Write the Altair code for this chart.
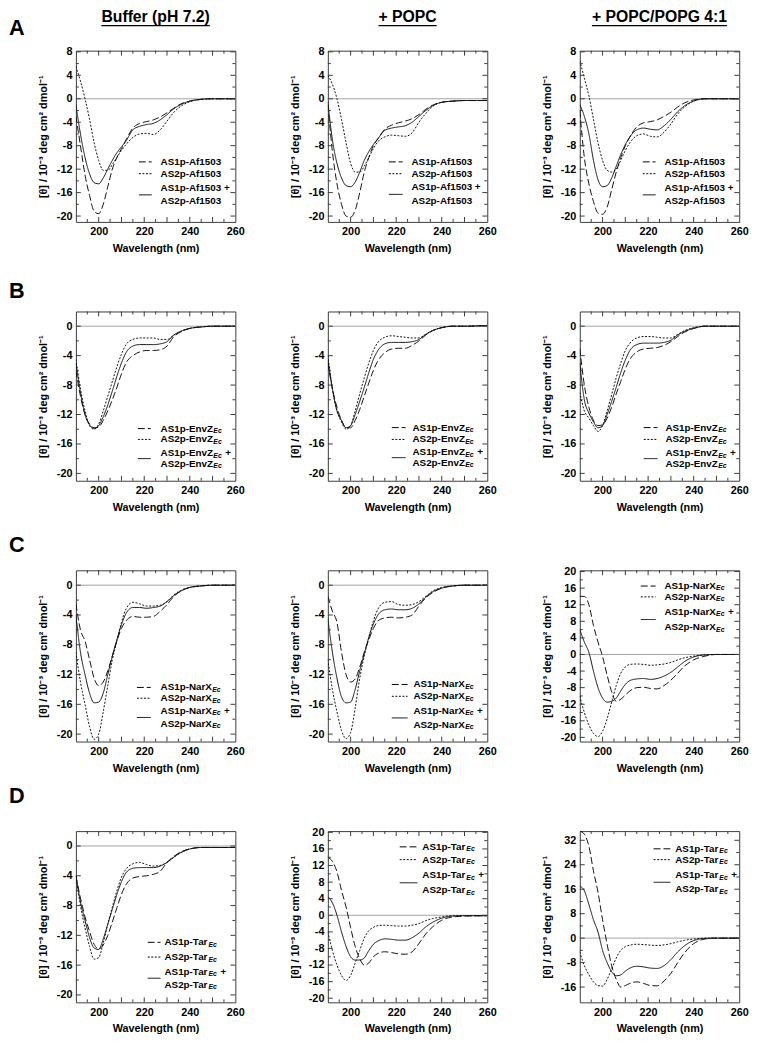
import altair as alt
import pandas as pd

# ---------------- data ----------------
W = [190, 192, 194, 196, 198, 200, 202, 204, 206, 208, 210, 212, 215, 218, 221, 224, 227, 230, 233, 236, 240, 245, 250, 260]

# Row A: Af1503
A1_S1 = [-3, -8, -13, -16.5, -19.2, -19.6, -18, -15, -12, -10, -8.5, -7, -5, -4.2, -3.9, -3.6, -3.1, -2.4, -1.6, -0.9, -0.4, -0.1, 0, 0]
A1_S2 = [5.5, 3, 0, -3.5, -7.5, -10.5, -12.2, -12.2, -11.2, -10, -8.8, -7.8, -6.6, -6.0, -5.9, -6.1, -5.3, -3.8, -2.3, -1.3, -0.5, -0.1, 0, 0]
A1_S3 = [-1, -6, -10, -12.8, -14.3, -14.5, -13.5, -12, -10.5, -9.2, -8.2, -7.2, -5.3, -4.7, -4.4, -4.2, -3.6, -2.7, -1.7, -1.0, -0.4, -0.1, 0, 0]

A2_S1 = [-1, -9, -14.5, -18, -20, -20.2, -19, -16, -12.5, -10, -8, -6.8, -5.2, -4.5, -4.1, -3.8, -3.4, -2.7, -1.8, -1.1, -0.6, -0.4, -0.3, -0.3]
A2_S2 = [4, 2.5, 0, -3.5, -7.5, -11, -12.5, -12.5, -11.5, -10, -8.5, -7.3, -6.5, -6.2, -6.3, -6.4, -5.8, -4, -2.5, -1.3, -0.6, -0.4, -0.3, -0.3]
A2_S3 = [-0.5, -7, -11, -13.5, -14.8, -15, -14.2, -12.5, -10.5, -9, -7.8, -6.8, -5.4, -5, -4.8, -4.6, -4.0, -3.0, -2.0, -1.2, -0.6, -0.4, -0.3, -0.3]

A3_S1 = [-2, -10, -14.5, -17.5, -19.5, -19.7, -18.5, -15.5, -12.5, -10, -8, -6.5, -4.8, -4.1, -3.9, -3.6, -3.0, -2.3, -1.4, -0.7, -0.2, 0, 0, 0]
A3_S2 = [6.5, 3.5, 0.5, -3.5, -7.5, -10.5, -12.2, -12.5, -12, -10.5, -8.8, -7.5, -6.3, -6, -6.4, -6.5, -5.7, -4.3, -2.6, -1.4, -0.4, 0, 0, 0]
A3_S3 = [-1, -3, -6, -10.5, -13.8, -15, -14.8, -13.5, -11.5, -9.5, -7.8, -6.5, -5.3, -5, -5.2, -5.3, -4.6, -3.5, -2.2, -1.2, -0.4, 0, 0, 0]

# Row B: EnvZ
B1_S1 = [-6, -9.5, -12, -13.3, -13.8, -13.7, -12.8, -11.5, -10, -8.3, -6.5, -5, -4, -3.5, -3.3, -3.3, -3.2, -2.7, -1.4, -0.8, -0.3, -0.1, 0, 0]
B1_S2 = [-4.5, -8.5, -11.5, -13.5, -14, -13.3, -11.5, -9.5, -7.5, -5.5, -3.8, -2.5, -1.8, -1.6, -1.6, -1.6, -1.8, -1.8, -1.2, -0.7, -0.3, -0.1, 0, 0]
B1_S3 = [-5, -9, -12, -13.4, -13.9, -13.5, -12.3, -10.7, -8.8, -6.8, -5, -3.6, -2.7, -2.5, -2.5, -2.5, -2.4, -2.1, -1.2, -0.7, -0.3, -0.1, 0, 0]

B2_S1 = [-5, -8.5, -11, -12.8, -13.8, -13.8, -12.8, -11.3, -9.5, -7.7, -6, -4.7, -3.6, -3.1, -3.0, -3.0, -2.6, -2.0, -1.2, -0.6, -0.2, 0, 0, 0.1]
B2_S2 = [-4, -8.5, -11.5, -13, -14, -13.5, -11.5, -9.2, -7, -5, -3.3, -2.2, -1.5, -1.3, -1.4, -1.5, -1.6, -1.6, -1.1, -0.6, -0.2, 0, 0, 0.1]
B2_S3 = [-4.5, -8.5, -11.5, -12.8, -13.8, -13.5, -12, -10.2, -8.3, -6.3, -4.5, -3.3, -2.4, -2.2, -2.2, -2.2, -2.1, -1.8, -1.1, -0.6, -0.2, 0, 0, 0.1]

B3_S1 = [-3, -8, -11, -12.8, -13.5, -13.4, -12.5, -11, -9.2, -7.5, -5.8, -4.5, -3.5, -3.1, -3.0, -2.9, -2.6, -2.1, -1.4, -0.8, -0.3, 0, 0, 0]
B3_S2 = [-9, -11.5, -12.5, -13.5, -14.3, -13.5, -11.5, -9.3, -7, -5, -3.3, -2.3, -1.6, -1.4, -1.4, -1.5, -1.6, -1.6, -1.1, -0.6, -0.2, 0, 0, 0]
B3_S3 = [-5, -10, -11.8, -13, -13.8, -13.5, -12, -10.2, -8.3, -6.3, -4.6, -3.3, -2.5, -2.3, -2.3, -2.3, -2.2, -1.9, -1.2, -0.7, -0.3, 0, 0, 0]

# Row C: NarX
C1_S1 = [-2.5, -6, -7.5, -10, -12.5, -13.5, -13, -11.5, -9.5, -7.5, -5.8, -4.8, -4.2, -4.3, -4.3, -4.2, -3.5, -2.6, -1.5, -0.8, -0.3, -0.1, 0, 0]
C1_S2 = [-9, -13, -16, -19, -20.7, -20, -17, -13.5, -10, -7.5, -5, -3.2, -2.3, -2.5, -2.8, -2.8, -2.7, -2.2, -1.3, -0.7, -0.3, -0.1, 0, 0]
C1_S3 = [-4, -9, -12, -14.5, -15.8, -15.7, -14.5, -12, -9.5, -7.3, -5.3, -3.8, -3, -3, -3.1, -3, -2.8, -2.2, -1.4, -0.8, -0.3, -0.1, 0, 0]

C2_S1 = [-1.5, -3.5, -5, -9, -12, -13, -12.6, -11, -9, -7.3, -5.8, -4.8, -4.4, -4.3, -4.4, -4.3, -4.0, -2.8, -1.7, -1, -0.4, -0.1, 0, 0]
C2_S2 = [-10, -14, -17, -19.5, -20.6, -19.8, -16.5, -12.5, -9.5, -7, -4.8, -3.2, -2.3, -2.2, -2.6, -2.7, -2.6, -2.2, -1.5, -0.8, -0.3, -0.1, 0, 0]
C2_S3 = [-4.5, -9, -12.5, -15, -15.8, -15.7, -14, -11.5, -9.2, -7, -5.2, -4, -3.3, -3.2, -3.3, -3.3, -3.1, -2.5, -1.6, -0.9, -0.4, -0.1, 0, 0]

C3_S1 = [14, 14, 12, 7, 3, -0.5, -5, -9, -11.3, -10.8, -9.8, -8.8, -8, -7.9, -8.2, -8.3, -7.5, -6.2, -4.5, -2.8, -1.3, -0.4, 0, 0]
C3_S2 = [-10, -14, -17, -19, -19.8, -18.5, -15.5, -11.5, -7.5, -4.5, -3, -2.4, -2.3, -2.4, -2.6, -2.5, -2.3, -1.9, -1.3, -0.8, -0.4, -0.1, 0, 0]
C3_S3 = [6, 3, 0.5, -4, -8, -10.5, -11.5, -11.3, -10.5, -8.8, -7.2, -6.3, -5.9, -5.8, -6, -5.8, -5.2, -4.3, -3, -1.7, -0.6, -0.1, 0, 0]

# Row D: Tar
D1_S1 = [-4, -7, -9.5, -11.5, -13.2, -13.8, -13.3, -12, -10.2, -8.3, -6.5, -5.2, -4.3, -4.1, -4.0, -3.8, -3.4, -2.2, -1.4, -0.8, -0.4, -0.2, -0.2, -0.2]
D1_S2 = [-4, -8, -11, -13.5, -15.2, -15, -13, -10.5, -8.2, -6, -4.2, -3.1, -2.4, -2.2, -2.5, -2.7, -2.6, -2.2, -1.5, -0.9, -0.4, -0.2, -0.2, -0.2]
D1_S3 = [-4, -7.5, -10, -12.3, -13.7, -13.9, -12.5, -10.5, -8.5, -6.5, -4.8, -3.6, -3, -2.9, -2.9, -2.9, -2.7, -2.2, -1.5, -0.9, -0.4, -0.2, -0.2, -0.2]

D2_S1 = [14, 13, 10.5, 6, 2, -3, -7.5, -10.5, -12, -11.5, -10, -9.2, -8.8, -9, -9.3, -9.4, -8.8, -6.8, -4.5, -2.8, -1.2, -0.4, -0.2, -0.1]
D2_S2 = [-4, -8.5, -12, -14.5, -15.7, -14.5, -11.5, -8.5, -5.5, -3.7, -2.9, -2.5, -2.4, -2.5, -2.6, -2.6, -2.4, -2, -1.3, -0.8, -0.4, -0.1, -0.1, -0.1]
D2_S3 = [4.5, 3, 0, -4, -7.5, -10, -10.8, -10.8, -10.3, -8.5, -7, -6.2, -5.7, -5.8, -6, -6, -5.4, -4.3, -2.8, -1.7, -0.7, -0.2, -0.1, -0.1]

D3_S1 = [35, 34, 30, 22, 15, 6, -2, -9, -13.5, -16, -15.5, -14.8, -14.3, -14.8, -15.5, -15.6, -14, -11.5, -8, -4.8, -1.8, -0.3, 0, 0]
D3_S2 = [-4.5, -9, -12, -14.3, -15.5, -15.7, -13.5, -10, -6.5, -4, -2.8, -2.3, -2, -2.1, -2.3, -2.4, -2.2, -1.8, -1.2, -0.7, -0.3, 0, 0, 0]
D3_S3 = [17, 15.5, 11, 6, 2, -4, -8, -11, -12.3, -12, -10.8, -9.8, -9.2, -9.4, -9.8, -9.9, -9, -7, -4.5, -2.5, -0.8, -0.1, 0, 0]

SERIES = ["AS1p", "AS2p", "AS1p + AS2p"]
COL_TITLES = ["Buffer (pH 7.2)", "+ POPC", "+ POPC/POPG 4:1"]
ROW_LETTERS = ["A", "B", "C", "D"]
PROTEINS = ["Af1503", "EnvZ", "NarX", "Tar"]
SUBSCRIPTS = ["", "Ec", "Ec", "Ec"]

X_LABELS = [200, 220, 240, 260]
Y_LABELS_A = [8, 4, 0, -4, -8, -12, -16, -20]
Y_LABELS_NEG = [0, -4, -8, -12, -16, -20]
Y_LABELS_20 = [20, 16, 12, 8, 4, 0, -4, -8, -12, -16, -20]
Y_LABELS_32 = [32, 24, 16, 8, 0, -8, -16]

X_TITLE = "Wavelength (nm)"
Y_TITLE = "[θ] / 10⁻³ deg cm² dmol⁻¹"

# ---------------- styling / layout ----------------
FONT = "Liberation Sans"
PW = 162
ROW_H = [174, 172, 174, 174]
FRAME = "#3a3a3a"
DASHES = [[7, 3], [2, 1.6], [1, 0]]

AW = {' ': 278, '+': 584, '-': 333, '(': 333, ')': 333, '.': 278, '/': 278, ':': 333,
      'A': 722, 'B': 722, 'C': 722, 'E': 667, 'G': 778, 'H': 722, 'N': 722, 'O': 778,
      'P': 667, 'S': 667, 'T': 611, 'X': 667, 'Z': 611,
      'a': 556, 'c': 556, 'e': 556, 'f': 333, 'n': 611, 'p': 611, 'r': 389, 'u': 611, 'v': 556}


def tw(s, size):
    return sum(AW.get(c, 556) for c in s) * size / 1000.0


def txt(t, x, y, size, weight="bold", style="normal", align="left", baseline="middle"):
    return alt.Chart(pd.DataFrame({"t": [t]})).mark_text(
        font=FONT, fontSize=size, fontWeight=weight, fontStyle=style,
        align=align, baseline=baseline, color="black"
    ).encode(text="t:N", x=alt.value(x), y=alt.value(y))


def hline(x1, x2, y, dash, width=1.0):
    return alt.Chart(pd.DataFrame({"k": [0]})).mark_rule(
        color="black", strokeWidth=width, strokeDash=dash
    ).encode(x=alt.value(x1), x2=alt.value(x2), y=alt.value(y))


# legend placement relative to each plot area: sample x1, sample x2, text x, row y's
LEG = {
    (0, 0): (64, 77, 86, [113, 125, 140, 153]),
    (0, 1): (62, 76, 85, [113, 125, 139, 153]),
    (0, 2): (64, 77, 86, [113, 125, 140, 153]),
    (1, 0): (63, 76, 86, [119, 130, 144, 155]),
    (1, 1): (65, 79, 86, [118, 130, 143, 154]),
    (1, 2): (65, 79, 87, [118, 130, 144, 155]),
    (2, 0): (62, 76, 86, [119, 130, 143, 156]),
    (2, 1): (65, 81, 87, [116, 128, 143, 157]),
    (2, 2): (62, 77, 86, [16, 27, 42, 58]),
    (3, 0): (73, 86, 90, [113, 128, 143, 156]),
    (3, 1): (73, 91, 96, [16, 29, 45, 60]),
    (3, 2): (75, 92, 97, [18, 29, 45, 59]),
}
LETTER_Y = [-16, -14, -19, -29]

PANELS = [
    [(A1_S1, A1_S2, A1_S3), (A2_S1, A2_S2, A2_S3), (A3_S1, A3_S2, A3_S3)],
    [(B1_S1, B1_S2, B1_S3), (B2_S1, B2_S2, B2_S3), (B3_S1, B3_S2, B3_S3)],
    [(C1_S1, C1_S2, C1_S3), (C2_S1, C2_S2, C2_S3), (C3_S1, C3_S2, C3_S3)],
    [(D1_S1, D1_S2, D1_S3), (D2_S1, D2_S2, D2_S3), (D3_S1, D3_S2, D3_S3)],
]
YCFG = {
    (0, 0): ([-21, 8.2], Y_LABELS_A), (0, 1): ([-21, 8.2], Y_LABELS_A), (0, 2): ([-21, 8.2], Y_LABELS_A),
    (1, 0): ([-21, 2], Y_LABELS_NEG), (1, 1): ([-21, 2], Y_LABELS_NEG), (1, 2): ([-21, 2], Y_LABELS_NEG),
    (2, 0): ([-21, 2], Y_LABELS_NEG), (2, 1): ([-21, 2], Y_LABELS_NEG), (2, 2): ([-21, 20.3], Y_LABELS_20),
    (3, 0): ([-21, 2], Y_LABELS_NEG), (3, 1): ([-21, 20.3], Y_LABELS_20), (3, 2): ([-21, 35], Y_LABELS_32),
}


def panel(r, c):
    h = ROW_H[r]
    s1, s2, s3 = PANELS[r][c]
    ydom, ylabels = YCFG[(r, c)]
    n = len(W)
    df = pd.DataFrame({"w": W * 3, "v": list(s1) + list(s2) + list(s3),
                       "s": [SERIES[0]] * n + [SERIES[1]] * n + [SERIES[2]] * n})
    xs = alt.Scale(domain=[190, 260], nice=False, zero=False)
    ys = alt.Scale(domain=ydom, nice=False, zero=False)
    xaxis = alt.Axis(values=X_LABELS, title=X_TITLE, ticks=False, tickSize=0, domain=False, grid=False,
                     labelFont=FONT, labelFontSize=11, labelFontWeight="bold", labelColor="black",
                     labelPadding=4, labelFlush=False, labelOverlap=False,
                     titleFont=FONT, titleFontSize=11, titleFontWeight="bold", titleColor="black",
                     titlePadding=6)
    yaxis = alt.Axis(values=ylabels, title=Y_TITLE, ticks=False, tickSize=0, domain=False, grid=False,
                     labelExpr="'' + datum.value",
                     labelFont=FONT, labelFontSize=11, labelFontWeight="bold", labelColor="black",
                     labelPadding=4, labelFlush=False, labelOverlap=False,
                     titleFont=FONT, titleFontSize=11, titleFontWeight="bold", titleColor="black",
                     titlePadding=8)
    X = alt.X("w:Q", scale=xs, axis=xaxis)
    Y = alt.Y("v:Q", scale=ys, axis=yaxis)

    layers = []
    # zero line
    layers.append(alt.Chart(pd.DataFrame({"v": [0]})).mark_rule(color="#8a8a8a", strokeWidth=0.8)
                  .encode(y=Y))
    # spectra
    layers.append(alt.Chart(df).mark_line(strokeWidth=1.0, color="#111111", interpolate="monotone", clip=True)
                  .encode(x=X, y=Y, detail="s:N",
                          strokeDash=alt.StrokeDash("s:N", scale=alt.Scale(domain=SERIES, range=DASHES),
                                                    legend=None)))
    # inward frame ticks
    xt_major = pd.DataFrame({"w": [v for v in range(200, 260, 10)]})
    xt_minor = pd.DataFrame({"w": [v for v in range(195, 260, 10)]})
    step = ylabels[0] - ylabels[1]
    ymaj = [v for v in ylabels if ydom[0] < v < ydom[1]]
    ymin_ = [v + step / 2 for v in ylabels if ydom[0] < v + step / 2 < ydom[1]]
    for dfx, L in ((xt_major, 5), (xt_minor, 3)):
        layers.append(alt.Chart(dfx).mark_rule(color=FRAME, strokeWidth=1)
                      .encode(x=X, y=alt.value(0), y2=alt.value(L)))
        layers.append(alt.Chart(dfx).mark_rule(color=FRAME, strokeWidth=1)
                      .encode(x=X, y=alt.value(h), y2=alt.value(h - L)))
    for vals, L in ((ymaj, 5), (ymin_, 3)):
        dfy = pd.DataFrame({"v": vals})
        layers.append(alt.Chart(dfy).mark_rule(color=FRAME, strokeWidth=1)
                      .encode(y=Y, x=alt.value(0), x2=alt.value(L)))
        layers.append(alt.Chart(dfy).mark_rule(color=FRAME, strokeWidth=1)
                      .encode(y=Y, x=alt.value(PW), x2=alt.value(PW - L)))

    # legend
    lx1, lx2, tx, ly = LEG[(r, c)]
    prot, sub = PROTEINS[r], SUBSCRIPTS[r]
    fs, ss = 10, 7
    layers.append(hline(lx1, lx2, ly[0], DASHES[0]))
    layers.append(hline(lx1, lx2, ly[1], DASHES[1]))
    layers.append(hline(lx1, lx2, (ly[2] + ly[3]) / 2, DASHES[2]))
    lines = [("AS1p-" + prot, ly[0], ""), ("AS2p-" + prot, ly[1], ""),
             ("AS1p-" + prot, ly[2], "+"), ("AS2p-" + prot, ly[3], "")]
    for main, yy, tail in lines:
        if sub:
            layers.append(txt(main, tx, yy, fs))
            xs_ = tx + tw(main, fs) + 0.3
            layers.append(txt(sub, xs_, yy + 2.5, ss, weight="bold", style="italic"))
            if tail:
                layers.append(txt(tail, xs_ + tw(sub, ss) + 3.5, yy, fs))
        else:
            layers.append(txt(main + (" " + tail if tail else ""), tx, yy, fs))

    # column titles and row letters
    if r == 0:
        t = COL_TITLES[c]
        layers.append(txt(t, PW / 2, -29, 16, align="center", baseline="alphabetic"))
        wt = tw(t, 16)
        layers.append(hline(PW / 2 - wt / 2, PW / 2 + wt / 2, -25.5, DASHES[2], width=1.4))
    if c == 0:
        layers.append(txt(ROW_LETTERS[r], -68, LETTER_Y[r], 22, align="left", baseline="alphabetic"))

    return alt.layer(*layers).properties(width=PW, height=h)


charts = [panel(r, c) for r in range(4) for c in range(3)]

chart = alt.concat(*charts, columns=3, spacing={"row": 91, "column": 94}, bounds="flush").properties(
    padding={"left": 0, "top": -8, "right": 4, "bottom": 4}, background="white"
).configure_view(stroke=FRAME, strokeWidth=1)

chart.save("out.html", embed_options={"renderer": "svg", "actions": False})
